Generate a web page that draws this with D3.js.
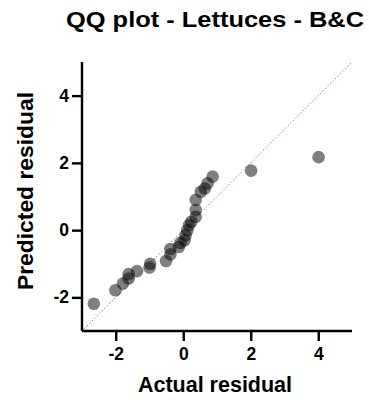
<!DOCTYPE html>
<html><head><meta charset="utf-8">
<script src="https://cdn.jsdelivr.net/npm/d3@7"></script>
<style>body{margin:0;background:#fff}svg{display:block}</style>
</head><body>
<svg id="c" width="369" height="404"></svg>
<script>
const actual = [-2.65,-2.01,-1.79,-1.62,-1.62,-1.37,-1.0,-0.98,-0.51,-0.38,-0.38,-0.13,-0.08,0.04,0.07,0.12,0.17,0.24,0.37,0.37,0.37,0.52,0.64,0.72,0.87,2.01,4.01];
const predicted = [-2.19,-1.79,-1.59,-1.44,-1.31,-1.22,-1.11,-1.0,-0.92,-0.72,-0.56,-0.50,-0.38,-0.30,-0.15,0.0,0.15,0.25,0.40,0.60,0.90,1.14,1.24,1.39,1.59,1.77,2.17];
const xTicks = [-2,0,2,4];
const yTicks = [-2,0,2,4];
const xDomain = [-3,5], yDomain = [-3,5];

const svg = d3.select('#c');
const x = d3.scaleLinear().domain(xDomain).range([82,352]);
const y = d3.scaleLinear().domain(yDomain).range([331,62]);
const font = '"Liberation Sans", Arial, sans-serif';

svg.append('line')
  .attr('x1', x(-3)).attr('y1', y(-3)).attr('x2', x(5)).attr('y2', y(5))
  .attr('stroke', '#c06a78').attr('stroke-width', 1).attr('stroke-dasharray', '1.5,2');

svg.append('g').selectAll('circle').data(actual).join('circle')
  .attr('cx', d => x(d)).attr('cy', (d,i) => y(predicted[i])).attr('r', 6.3)
  .attr('fill', '#000').attr('fill-opacity', 0.5);

const fmt = d => String(d);
const xa = svg.append('g').attr('transform','translate(0,331)')
  .call(d3.axisBottom(x).tickValues(xTicks).tickSize(10).tickPadding(7).tickFormat(fmt));
const ya = svg.append('g').attr('transform','translate(82,0)')
  .call(d3.axisLeft(y).tickValues(yTicks).tickSize(10).tickPadding(3).tickFormat(fmt));
[xa, ya].forEach(a => {
  a.select('.domain').attr('stroke','#000').attr('stroke-width',2.4);
  a.selectAll('.tick line').attr('stroke','#000').attr('stroke-width',2.4);
  a.selectAll('.tick text').attr('fill','#000').attr('font-family',font).attr('font-weight','bold').attr('font-size',17.5);
});
xa.select('.domain').attr('d', 'M82,0H352');
ya.select('.domain').attr('d', 'M0,331V62');

svg.append('text').attr('x', 215).attr('y', 27).attr('text-anchor','middle')
  .attr('font-family',font).attr('font-weight','bold').attr('font-size',22).attr('fill','#000')
  .attr('textLength',298).attr('lengthAdjust','spacingAndGlyphs')
  .text('QQ plot - Lettuces - B&C');
svg.append('text').attr('x', 215).attr('y', 392).attr('text-anchor','middle')
  .attr('font-family',font).attr('font-weight','bold').attr('font-size',21.5).attr('fill','#000')
  .text('Actual residual');
svg.append('text').attr('transform','translate(33,191) rotate(-90)').attr('text-anchor','middle')
  .attr('font-family',font).attr('font-weight','bold').attr('font-size',21.5).attr('fill','#000')
  .attr('textLength',198).attr('lengthAdjust','spacingAndGlyphs')
  .text('Predicted residual');
</script>
</body></html>
